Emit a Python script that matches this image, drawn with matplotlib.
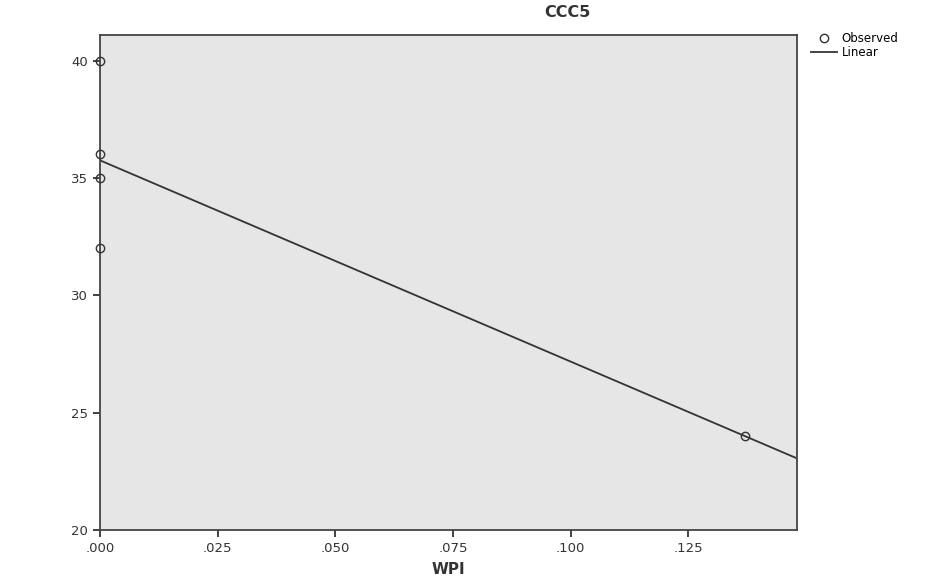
import numpy as np
import matplotlib.pyplot as plt
from matplotlib.ticker import FuncFormatter

# observed values
wpi = [0.0, 0.0, 0.0, 0.0, 0.137]
ccc5 = [40, 36, 35, 32, 24]
x_ticks = [0.0, 0.025, 0.05, 0.075, 0.1, 0.125]
y_ticks = [20, 25, 30, 35, 40]

fig = plt.figure(figsize=(9.34, 5.84), dpi=100)
ax = fig.add_axes([0.107, 0.0925, 0.746, 0.848])
ax.set_facecolor('#e6e6e6')

# linear fit
slope, icpt = np.polyfit(wpi, ccc5, 1)
xs = np.array([0, 0.148])
ax.plot(xs, icpt + slope * xs, color='#333333', lw=1.3, label='Linear')
ax.plot(wpi, ccc5, 'o', mfc='none', mec='#333333', ms=6, mew=1.0,
        label='Observed', clip_on=False, zorder=5)

ax.set_xlim(0, 0.148)
ax.set_ylim(20, 41.1)
ax.set_xticks(x_ticks)
ax.set_yticks(y_ticks)
ax.xaxis.set_major_formatter(FuncFormatter(lambda v, p: f'{v:.3f}'.lstrip('0')))
ax.tick_params(direction='out', length=5, width=1.3, labelsize=9.5, colors='#333333')
for s in ax.spines.values():
    s.set_color('#444444')
    s.set_linewidth(1.3)

ax.set_xlabel('WPI', fontsize=11, fontweight='bold', color='#333333', labelpad=5)
fig.text(0.607, 0.978, 'CCC5', ha='center', va='center', fontsize=11.5,
         fontweight='bold', color='#333333')

h, l = ax.get_legend_handles_labels()
ax.legend(h[::-1], l[::-1], loc='upper left', bbox_to_anchor=(1.01, 1.02),
          frameon=False, fontsize=8.5, handlelength=2.2, labelspacing=0.1,
          borderaxespad=0.2, handletextpad=0.4)

fig.savefig('out.png', dpi=100)
